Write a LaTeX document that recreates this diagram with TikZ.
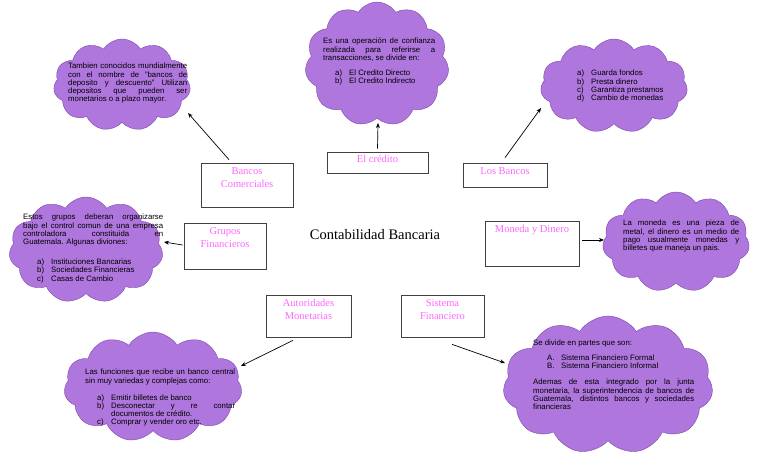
\documentclass[tikz,border=0pt]{standalone}
\usepackage{fontspec}
\setmainfont{Liberation Serif}
\setsansfont{Liberation Sans}
\usepackage{tikz}
\usetikzlibrary{shapes.symbols,arrows.meta}
\setlength{\parindent}{0pt}
\definecolor{nubefill}{RGB}{175,118,221}
\definecolor{nubeline}{RGB}{124,72,172}
\definecolor{rosa}{RGB}{255,102,255}
\newcommand{\itm}[3][12pt]{\hspace*{#1}\makebox[14pt][l]{#2}#3}
\tikzset{nube/.style={
    cloud, cloud puffs=11, cloud puff arc=115, cloud ignores aspect,
    draw=nubeline, fill=nubefill, thin, inner sep=0pt
  },
  texto/.style={
    anchor=north west, inner sep=0pt, text width=#1, align=justify,
    font=\sffamily\fontsize{7.8}{8.2}\selectfont
  },
  caja/.style={
    draw=black!75, line width=0.7pt, fill=white, inner sep=0pt
  },
  titulo/.style={
    anchor=north, inner sep=4.5pt, text=rosa, align=center,
    font=\fontsize{10.5}{13}\selectfont
  },
  flecha/.style={
    -{Stealth[length=5pt,width=4pt]}, line width=0.7pt
  }
}

\begin{document}
\begin{tikzpicture}[x=1pt,y=-1pt]
    \useasboundingbox (0,0) rectangle (768,466);
    % nubes
    \node[nube, minimum width=137pt, minimum height=92pt] (cbcom) at (122,85) {};
    \node[nube, minimum width=144pt, minimum height=124pt] (ccred) at (377,64) {};
    \node[nube, minimum width=147pt, minimum height=94pt] (cbanc) at (614,86) {};
    \node[nube, minimum width=154pt, minimum height=106pt] (cgrup) at (86,250) {};
    \node[nube, minimum width=147pt, minimum height=100pt] (cmon) at (676,242) {};
    \node[nube, minimum width=178pt, minimum height=110pt] (caut) at (153,387) {};
    \node[nube, minimum width=210pt, minimum height=138pt] (csis) at (608,385) {};
    % textos de las nubes
    \node[texto=119pt] (tbcom) at (68,63) {Tambien conocidos mundialmente\linebreak
      con el nombre de "bancos de\linebreak deposito y descuento" Utilizan\linebreak
      depositos que pueden ser\linebreak monetarios o a plazo mayor.};
    \node[texto=112pt] (tcred) at (323,38) {Es una operación de confianza\linebreak
      realizada para referirse a\linebreak transacciones, se divide en:\par\vspace{7pt}
      \itm{a)}{El Credito Directo}\par
      \itm{b)}{El Credito Indirecto}};
    \node[texto=100pt] (tbanc) at (577,70) {\itm[0pt]{a)}{Guarda fondos}\par
      \itm[0pt]{b)}{Presta dinero}\par
      \itm[0pt]{c)}{Garantiza prestamos}\par
      \itm[0pt]{d)}{Cambio de monedas}};
    \node[texto=140pt] (tgrup) at (23,214) {Estos grupos deberan organizarse\linebreak
      bajo el control comun de una empresa\linebreak controladora constituida en\linebreak
      Guatemala. Algunas diviones:\par\vspace{12pt}
      \itm[14pt]{a)}{Instituciones Bancarias}\par
      \itm[14pt]{b)}{Sociedades Financieras}\par
      \itm[14pt]{c)}{Casas de Cambio}};
    \node[texto=116pt] (tmon) at (623,220) {La moneda es una pieza de\linebreak
      metal, el dinero es un medio de\linebreak pago usualmente monedas y\linebreak
      billetes que maneja un pais.};
    \node[texto=150pt] (taut) at (85,369) {Las funciones que recibe un banco central\linebreak
      sin muy variedas y complejas como:\par\vspace{9pt}
      \itm{a)}{Emitir billetes de banco}\par
      \itm{b)}{Desconectar\hfill y\hfill re\hfill contar}\par
      \hspace*{26pt}documentos de crédito.\par
      \itm{c)}{Comprar y vender oro etc.}};
    \node[texto=161pt] (tsis) at (533,340) {Se divide en partes que son:\par\vspace{6pt}
      \itm[14pt]{A.}{Sistema Financiero Formal}\par
      \itm[14pt]{B.}{Sistema Financiero Informal}\par\vspace{8.5pt}
      Ademas de esta integrado por la junta\linebreak
      monetaria, la superintendencia de bancos de\linebreak
      Guatemala, distintos bancos y sociedades\linebreak financieras};
    % cajas
    \node[caja, minimum width=92pt, minimum height=44pt,
      label={[titulo]north:Bancos\\Comerciales}] (bcom) at (247,185) {};
    \node[caja, minimum width=101pt, minimum height=21pt,
      label={[titulo, inner sep=3pt]north:El crédito}] (cred) at (377.5,162.5) {};
    \node[caja, minimum width=82pt, minimum height=46pt,
      label={[titulo]north:Grupos\\Financieros}] (gfin) at (225,246) {};
    \node[caja, minimum width=84pt, minimum height=24pt,
      label={[titulo]north:Los Bancos}] (lban) at (505,175) {};
    \node[caja, minimum width=94pt, minimum height=45pt,
      label={[titulo]north:Moneda y Dinero}] (mdin) at (532,243.5) {};
    \node[caja, minimum width=85pt, minimum height=42pt,
      label={[titulo]north:Autoridades\\Monetarias}] (aut) at (308.5,316) {};
    \node[caja, minimum width=83pt, minimum height=42pt,
      label={[titulo]north:Sistema\\Financiero}] (sfin) at (442.5,316) {};
    \node[font=\fontsize{14.5}{17}\selectfont, anchor=base] (conta) at (375,239) {Contabilidad Bancaria};
    % flechas
    \draw[flecha] ([shift={(-18,-3)}]bcom.north) -- ([shift={(66,28)}]cbcom.center);
    \draw[flecha] ([shift={(0,-3)}]cred.north) -- ([shift={(1,59)}]ccred.center);
    \draw[flecha] ([shift={(0,-5)}]lban.north) -- ([shift={(-73,22)}]cbanc.center);
    \draw[flecha] ([shift={(-1,-1)}]gfin.west) -- ([shift={(78,-8)}]cgrup.center);
    \draw[flecha] ([shift={(3,-3.5)}]mdin.east) -- ([shift={(-72,-2)}]cmon.center);
    \draw[flecha] ([shift={(-15.5,3)}]aut.south) -- ([shift={(88,-21)}]caut.center);
    \draw[flecha] ([shift={(9.5,7)}]sfin.south) -- ([shift={(-103,-22)}]csis.center);
\end{tikzpicture}
\end{document}
